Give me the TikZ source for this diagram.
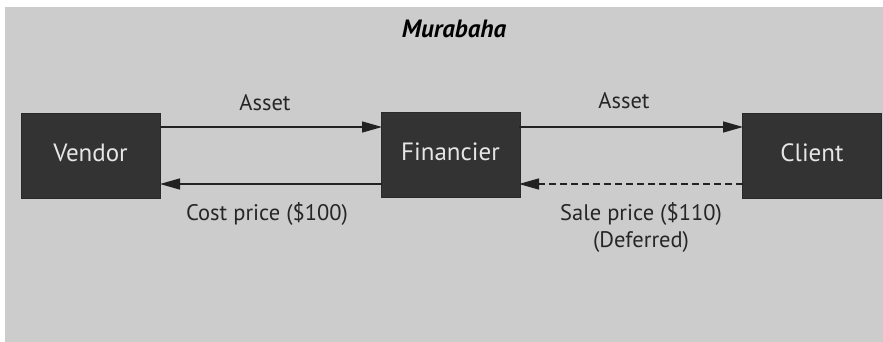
\documentclass[tikz,border=0pt]{standalone}
\usepackage{fontspec}
\setmainfont{PT Sans}
\usetikzlibrary{arrows.meta}
\definecolor{bg}{HTML}{CCCCCC}
\definecolor{boxc}{HTML}{333333}
\definecolor{boxtxt}{HTML}{E6E6E6}
\definecolor{linec}{HTML}{222222}
\begin{document}
\begin{tikzpicture}[x=1pt,y=-1pt,
  party/.style={fill=boxc,draw=boxc!80!black,line width=0.6pt,text=boxtxt,minimum width=139pt,minimum height=85pt,inner sep=0pt,text height=18pt,text depth=7pt,font=\fontsize{25}{28}\selectfont},
  flow/.style={line width=1.4pt,draw=linec,-{Triangle[length=20pt,width=11pt]}},
  lbl/.style={font=\fontsize{22.5}{26}\selectfont,text=black!85,inner sep=0pt,align=center}]
\useasboundingbox (0,0) rectangle (883,342);
\fill[bg] (5,7) rectangle (883,342);
\node[font=\fontsize{25}{28}\selectfont\itshape\bfseries] (title) at (454,29) {Murabaha};
\node[party] (vendor) at (90.5,155.5) {Vendor};
\node[party] (fin) at (450.5,155) {Financier};
\node[party] (client) at (812,156) {Client};
\coordinate (vt) at (160,127); \coordinate (ft) at (382,127);
\coordinate (ft2) at (519,127); \coordinate (ct) at (743,127);
\coordinate (vb) at (160,184); \coordinate (fb) at (382,184);
\coordinate (fb2) at (519,184); \coordinate (cb) at (743,184);
\draw[flow] (vt) -- (ft);
\draw[flow] (ft2) -- (ct);
\draw[flow] (fb) -- (vb);
\draw[flow,dash pattern=on 7pt off 4pt] (cb) -- (fb2);
\node[lbl] (a1) at (265,103) {Asset};
\node[lbl] (a2) at (624,101) {Asset};
\node[lbl] (cost) at (267,214) {Cost price (\$100)};
\node[lbl] (sale) at (641,214) {Sale price (\$110)};
\node[lbl] (def) at (641,242) {(Deferred)};
\end{tikzpicture}
\end{document}
